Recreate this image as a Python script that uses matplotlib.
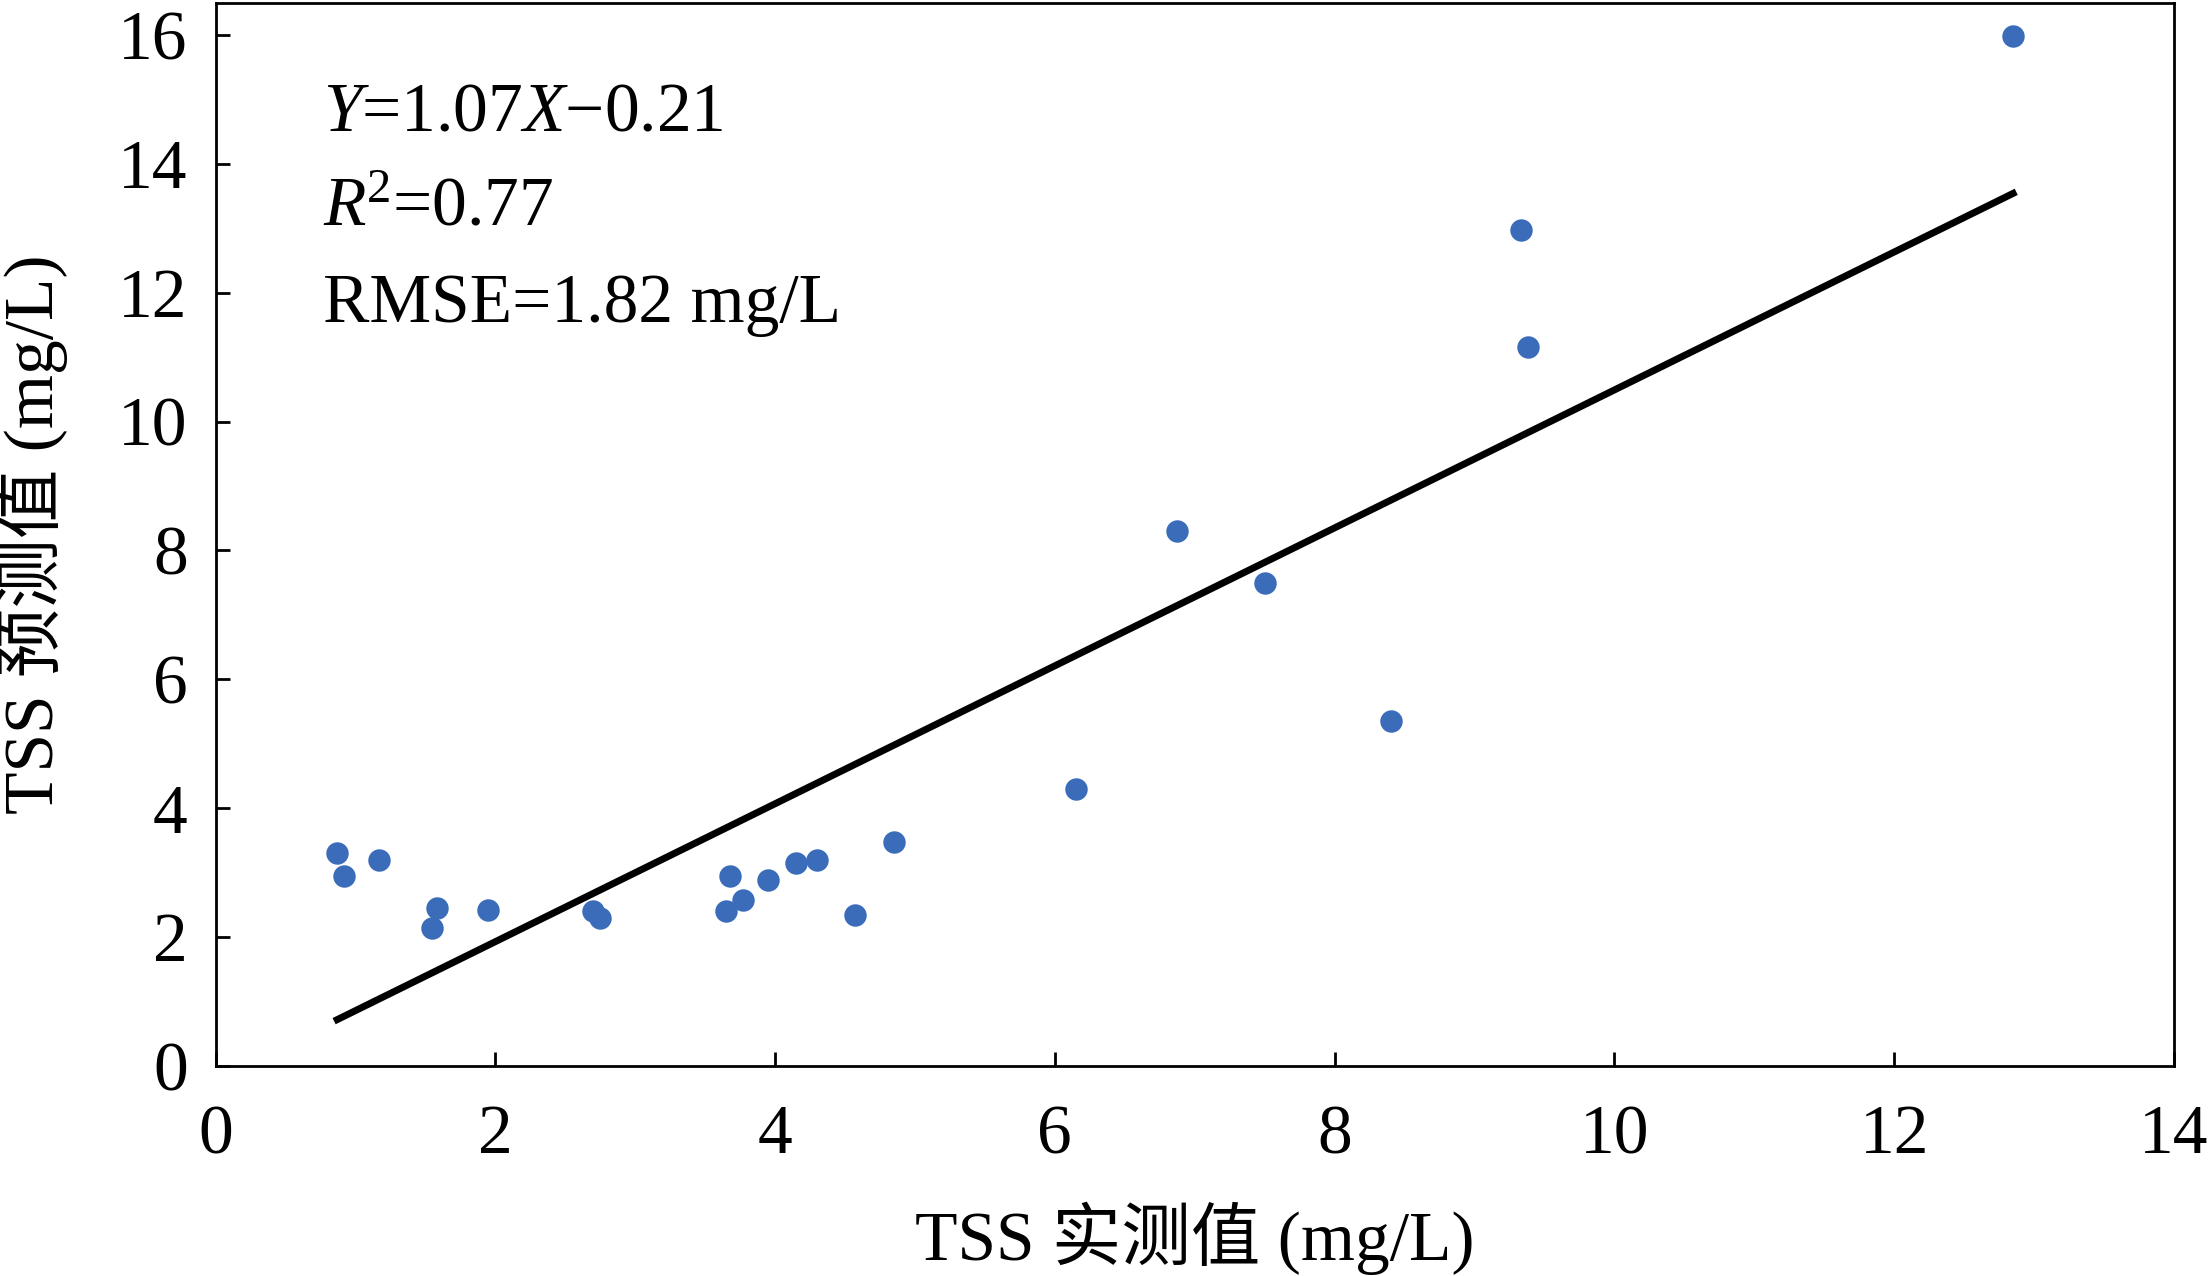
import matplotlib
matplotlib.use('Agg')
import matplotlib.pyplot as plt
import numpy as np

plt.rcParams['font.family'] = ['Liberation Serif', 'Noto Sans CJK SC']
plt.rcParams['mathtext.fontset'] = 'custom'
plt.rcParams['mathtext.rm'] = 'Liberation Serif'
plt.rcParams['mathtext.it'] = 'Liberation Serif:italic'

measured = [0.87, 0.92, 1.17, 1.55, 1.58, 1.95, 2.70, 2.75, 3.65, 3.68, 3.77, 3.95,
            4.15, 4.30, 4.57, 4.85, 6.15, 6.87, 7.50, 8.40, 9.33, 9.38, 12.85]
predicted = [3.30, 2.95, 3.20, 2.15, 2.45, 2.42, 2.40, 2.30, 2.40, 2.95, 2.57, 2.88,
             3.15, 3.20, 2.35, 3.47, 4.30, 8.30, 7.50, 5.35, 12.97, 11.15, 15.98]
slope, intercept = 1.07, -0.21

fig = plt.figure(figsize=(11.04, 6.38), dpi=200)
ax = fig.add_axes([0.0976, 0.1645, 0.887, 0.8335])

ax.scatter(measured, predicted, s=50, color='#3a6cba', zorder=3)
lx = np.array([min(measured), max(measured)])
ax.plot(lx, slope * lx + intercept, color='black', lw=2.5)

ax.set_xlim(0, 14)
ax.set_ylim(0, 16.5)
ax.set_xticks(range(0, 15, 2))
ax.set_yticks(range(0, 17, 2))
ax.tick_params(direction='in', labelsize=25, length=5, width=1)
ax.tick_params(axis='x', pad=14)
ax.tick_params(axis='y', pad=10)
for s in ax.spines.values():
    s.set_linewidth(1)

ax.set_xlabel('TSS 实测值 (mg/L)', fontsize=25, labelpad=12)
ax.set_ylabel('TSS 预测值 (mg/L)', fontsize=25, labelpad=18)

ax.text(0.055, 0.88, r'$Y$=1.07$X$−0.21', transform=ax.transAxes, fontsize=25)
ax.text(0.055, 0.79, r'$R$$^{2}$=0.77', transform=ax.transAxes, fontsize=25)
ax.text(0.055, 0.70, 'RMSE=1.82 mg/L', transform=ax.transAxes, fontsize=25)

fig.savefig('out.png')
